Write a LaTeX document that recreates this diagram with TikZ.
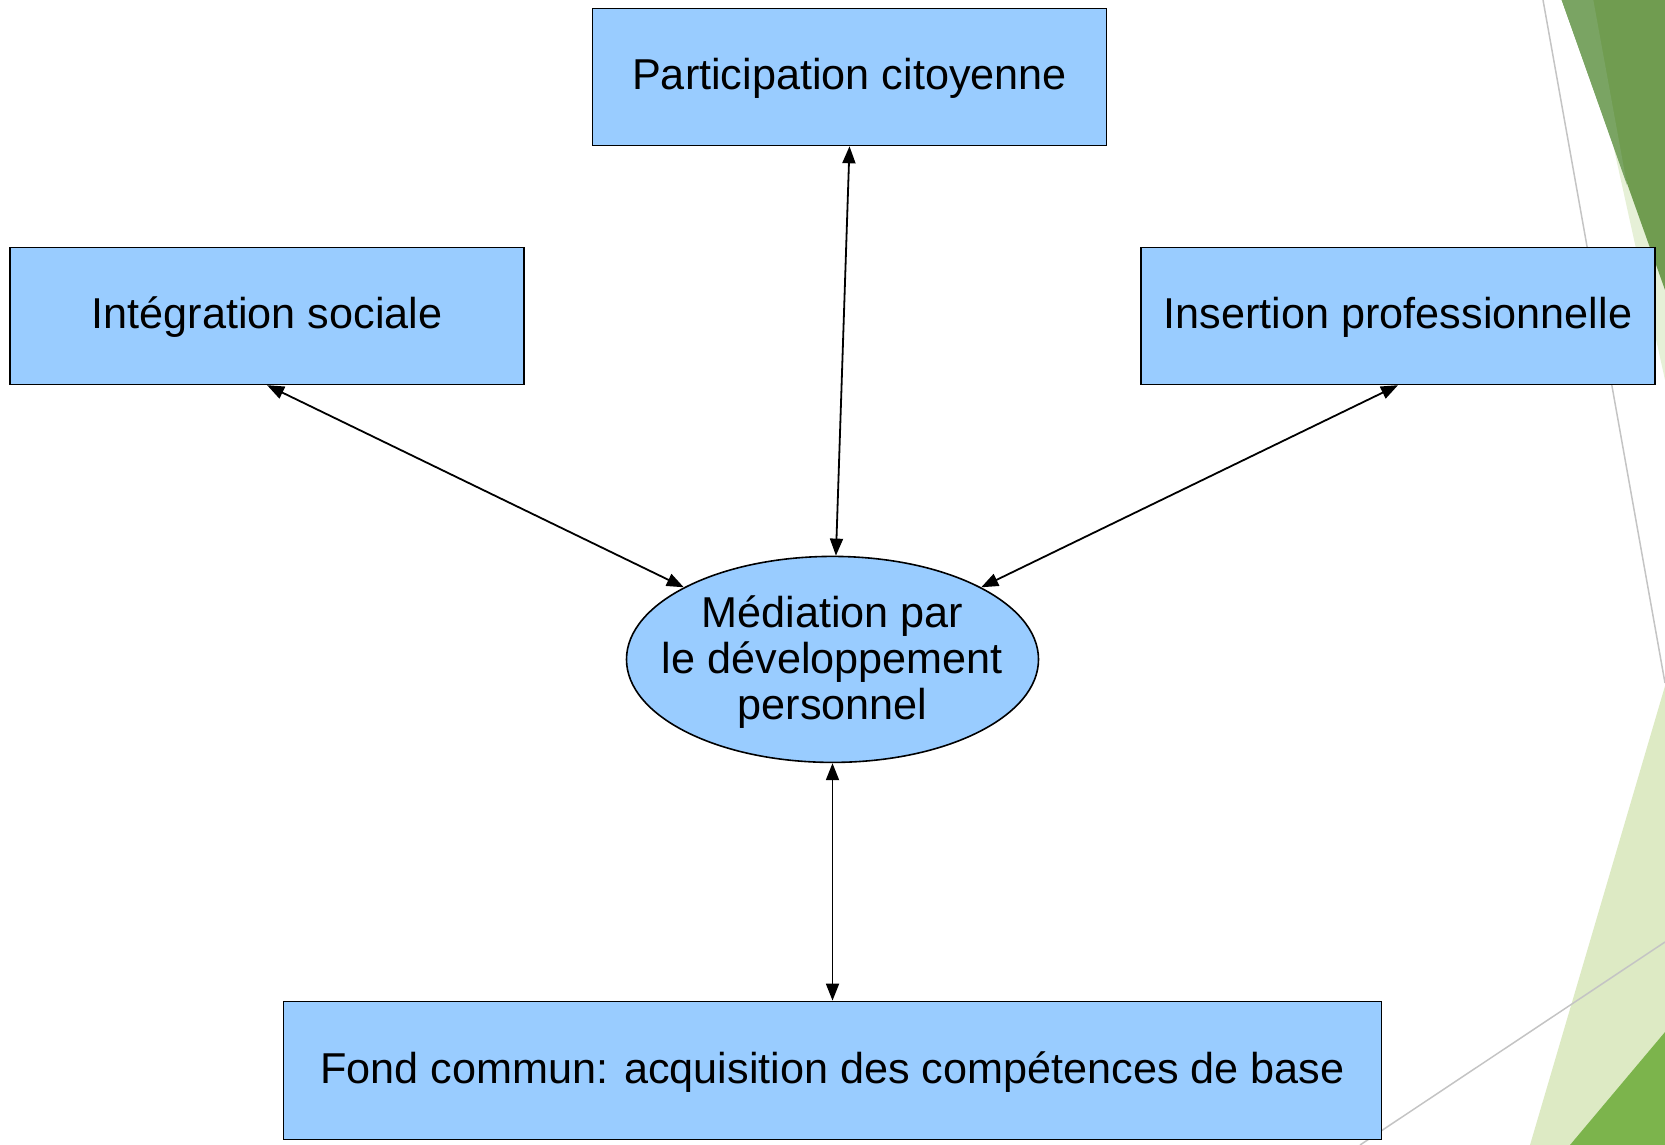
\documentclass[tikz,border=0pt]{standalone}
\usepackage{fontspec}
\setmainfont{Liberation Sans}
\usepackage{tikz}
\usetikzlibrary{positioning}
\usetikzlibrary{shapes.geometric, arrows.meta}
\definecolor{boxblue}{HTML}{99CCFF}
\definecolor{leafdark}{HTML}{709C50}
\definecolor{leafmid}{HTML}{7AA463}
\definecolor{leafgreen}{HTML}{7CB44C}
\definecolor{leaflight}{HTML}{DDEAC4}
\definecolor{leafpale}{HTML}{E6F0D7}
\definecolor{slidegray}{HTML}{C4C4C4}
\tikzstyle{goal} = [rectangle, draw=black, line width=0.8pt, fill=boxblue, minimum width=257pt, minimum height=68.5pt, inner sep=0pt, text height=17.5pt, text depth=4.5pt, font=\fontsize{21.6}{23}\selectfont]
\tikzstyle{hub} = [ellipse, draw=black, line width=0.8pt, fill=boxblue, minimum width=206pt, minimum height=103pt, inner xsep=-14pt, inner ysep=0pt, text depth=1.5pt, align=center, font=\fontsize{21.6}{23}\selectfont]
\tikzstyle{link} = [line width=0.9pt, {Triangle[length=8.5pt,width=6.5pt]}-{Triangle[length=8.5pt,width=6.5pt]}]

\begin{document}
\begin{tikzpicture}[x=0.5pt,y=-0.5pt]
    \useasboundingbox (0,0) rectangle (1665,1145);
    % slide background
    \fill[leafpale] (1612,140) -- (1665,380) -- (1665,140) -- cycle;
    \fill[leafdark] (1561.7,0) -- (1665,0) -- (1665,290) -- cycle;
    \fill[leafmid] (1561.7,0) -- (1593.3,0) -- (1627,185) -- cycle;
    \draw[slidegray, line width=0.75pt] (1543,0) -- (1665,683);
    \fill[leaflight] (1665,686) -- (1530,1145) -- (1665,1145) -- cycle;
    \fill[leafgreen] (1570,1145) -- (1665,1032) -- (1665,1145) -- cycle;
    \draw[slidegray, line width=0.75pt] (1360,1145) -- (1665,942);

    \node[goal] (part) at (849.5,77) {Participation citoyenne};
    \node[goal] (intg) at (267.1,315.9) {Intégration sociale};
    \node[goal] (insr) at (1398,315.9) {Insertion professionnelle};
    \node[hub] (med) at (832.5,659.4) {Médiation par\\le développement\\personnel};
    \node[goal, minimum width=549pt, minimum height=69pt] (fond) at (832.5,1070.4) {Fond commun: acquisition des compétences de base};

    \path [link] (part.south) edge (med);
    \path [link] (intg.south) edge (med);
    \path [link] (insr.south) edge (med);
    \path [link] (med.south) edge (fond.north);
\end{tikzpicture}
\end{document}
